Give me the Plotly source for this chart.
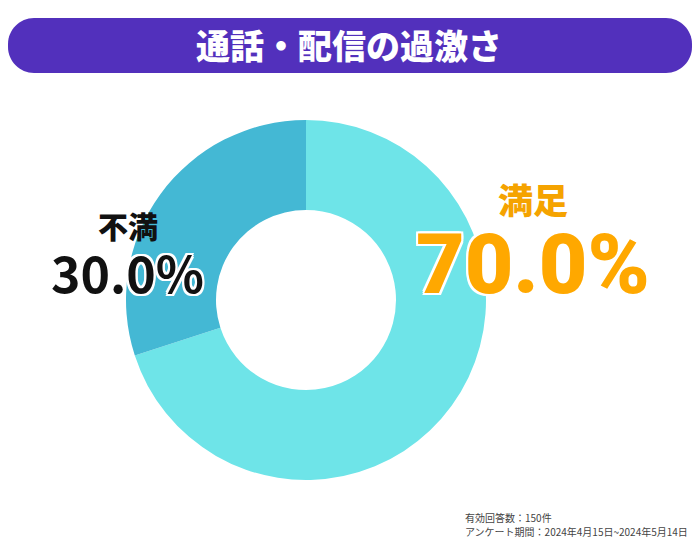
import plotly.graph_objects as go

# データ
labels = ["満足", "不満"]
values = [70.0, 30.0]
colors = ["#6EE4E8", "#44B8D4"]
title_text = "通話・配信の過激さ"
note_lines = ["有効回答数：150件", "アンケート期間：2024年4月15日~2024年5月14日"]

W, H = 700, 550
OFF = 8  # ページ余白


def px2paper(x, y):
    # ページ上の座標 -> paper座標
    return (x - OFF) / W, 1 - (y - OFF) / H


# 角丸の帯（タイトル背景）
x0, x1, y0, y1, r = 8, 692, 18, 73, 26
k = 0.55 * r
pts = [
    ("M", [(x0 + r, y0)]),
    ("L", [(x1 - r, y0)]),
    ("C", [(x1 - r + k, y0), (x1, y0 + r - k), (x1, y0 + r)]),
    ("L", [(x1, y1 - r)]),
    ("C", [(x1, y1 - r + k), (x1 - r + k, y1), (x1 - r, y1)]),
    ("L", [(x0 + r, y1)]),
    ("C", [(x0 + r - k, y1), (x0, y1 - r + k), (x0, y1 - r)]),
    ("L", [(x0, y0 + r)]),
    ("C", [(x0, y0 + r - k), (x0 + r - k, y0), (x0 + r, y0)]),
]
path = ""
for cmd, ps in pts:
    path += cmd + " ".join("%.5f,%.5f" % px2paper(px, py) for px, py in ps)
path += " Z"

dx0, dy0 = px2paper(306 - 180, 480)
dx1, dy1 = px2paper(306 + 180, 120)

fig = go.Figure()
fig.add_trace(go.Pie(
    labels=labels,
    values=values,
    hole=0.5,
    sort=False,
    direction="clockwise",
    rotation=0,
    marker=dict(colors=colors, line=dict(width=0)),
    textinfo="none",
    hoverinfo="label+percent",
    showlegend=False,
    domain=dict(x=[dx0, dx1], y=[dy0, dy1]),
))

outline_w = ("2px 0 0 #fff, -2px 0 0 #fff, 0 2px 0 #fff, 0 -2px 0 #fff, "
             "2px 2px 0 #fff, -2px -2px 0 #fff, 2px -2px 0 #fff, -2px 2px 0 #fff")


def ann(x, y, text, font, xanchor="center"):
    ax, ay = px2paper(x, y)
    return dict(x=ax, y=ay, xref="paper", yref="paper", text=text, showarrow=False,
                xanchor=xanchor, yanchor="middle", font=font)


annotations = [
    ann(349, 45, title_text,
        dict(family="Noto Sans CJK JP", size=34, color="white", weight=900)),
    ann(533, 198, labels[0],
        dict(family="Noto Sans CJK JP", size=35, color="#F5A300", weight=900)),
    ann(533, 264, "%.1f%%" % values[0],
        dict(family="Roboto", size=84, color="#FFA800", weight=900, shadow=outline_w)),
    ann(128, 225, labels[1],
        dict(family="Noto Sans CJK JP", size=30, color="#111111", weight=900)),
    ann(127, 271, "%.1f%%" % values[1],
        dict(family="Noto Sans CJK JP", size=50, color="#111111", weight="bold", shadow=outline_w)),
    ann(463, 517, note_lines[0],
        dict(family="Noto Sans CJK JP", size=10, color="#444444"), xanchor="left"),
    ann(463, 531, note_lines[1],
        dict(family="Noto Sans CJK JP", size=10, color="#444444"), xanchor="left"),
]

fig.update_layout(
    width=W,
    height=H,
    margin=dict(l=0, r=0, t=0, b=0),
    paper_bgcolor="white",
    plot_bgcolor="white",
    shapes=[dict(type="path", xref="paper", yref="paper", path=path,
                 fillcolor="#5230BC", line=dict(width=0), layer="below")],
    annotations=annotations,
)

fig.write_html("out.html")
